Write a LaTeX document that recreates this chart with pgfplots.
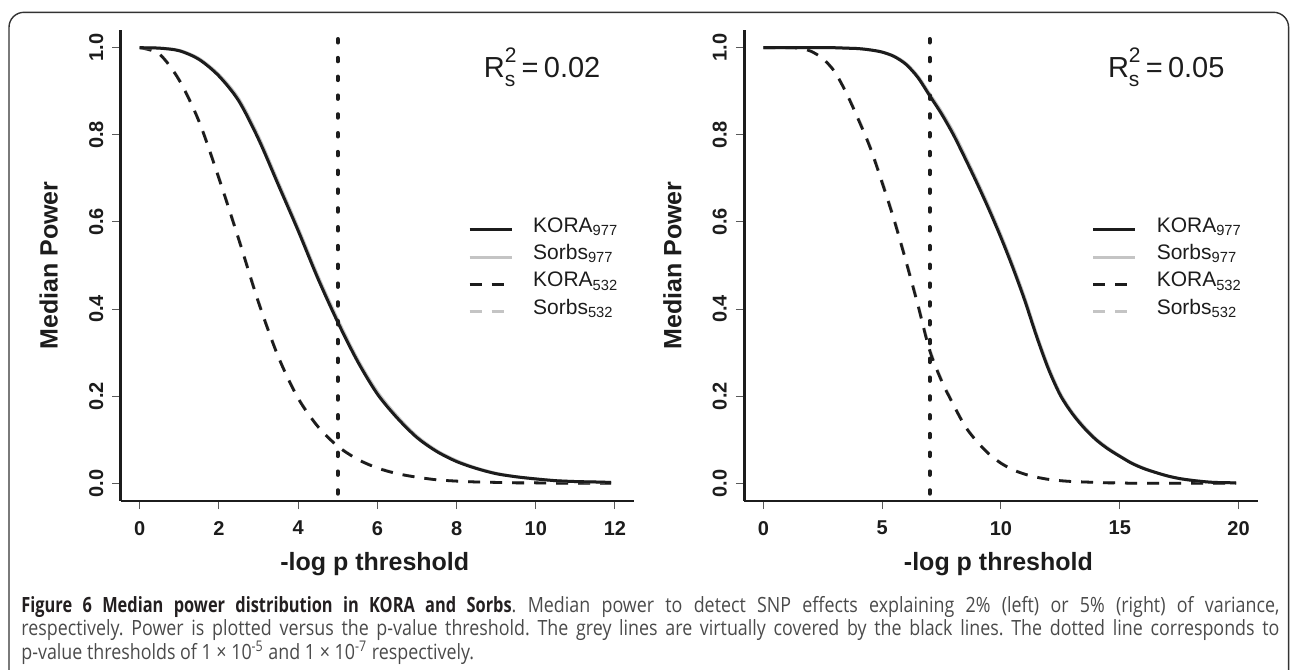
\documentclass[border=0pt]{standalone}
\usepackage{pgfplots}
\pgfplotsset{compat=1.18}
\usepackage{pgfplotstable}
\usepackage{fontspec}
\setmainfont{Liberation Sans}
\newfontfamily\capfont[FakeStretch=0.85]{Open Sans}
\newfontfamily\capbold[FakeStretch=0.78]{Open Sans Bold}

\definecolor{ink}{HTML}{1C1C1C}
\definecolor{sorbs}{HTML}{C4C4C4}
\definecolor{framec}{HTML}{333333}
\definecolor{capdark}{HTML}{231F20}
\definecolor{caplight}{HTML}{4A4A4A}

% R_s^2 = 0.02, columns: -log p, KORA977, Sorbs977, KORA532, Sorbs532
\pgfplotstableread{
x    k977  s977  k532  s532
0    1.000 1.000 1.000 1.000
0.5  0.999 0.999 0.985 0.986
1    0.993 0.994 0.925 0.927
1.5  0.973 0.975 0.830 0.832
2    0.935 0.938 0.700 0.703
2.5  0.878 0.883 0.560 0.563
3    0.790 0.796 0.415 0.418
3.5  0.685 0.691 0.290 0.292
4    0.580 0.586 0.195 0.197
4.5  0.470 0.476 0.130 0.131
5    0.370 0.376 0.085 0.086
5.5  0.280 0.285 0.055 0.056
6    0.205 0.210 0.035 0.036
6.5  0.150 0.154 0.022 0.023
7    0.105 0.108 0.014 0.014
7.5  0.073 0.075 0.008 0.008
8    0.050 0.052 0.005 0.005
8.5  0.034 0.035 0.003 0.003
9    0.022 0.023 0.002 0.002
9.5  0.015 0.015 0.001 0.001
10   0.010 0.010 0.001 0.001
10.5 0.006 0.006 0.000 0.000
11   0.004 0.004 0.000 0.000
11.5 0.003 0.003 0.000 0.000
11.9 0.002 0.002 0.000 0.000
}\lefttab

% R_s^2 = 0.05
\pgfplotstableread{
x    k977  s977  k532  s532
0    1.000 1.000 1.000 1.000
1    1.000 1.000 1.000 1.000
1.5  1.000 1.000 0.999 0.999
2    1.000 1.000 0.992 0.992
2.5  1.000 1.000 0.975 0.976
3    1.000 1.000 0.945 0.946
3.5  0.999 0.999 0.895 0.897
4    0.998 0.998 0.835 0.838
4.5  0.995 0.995 0.770 0.773
5    0.990 0.990 0.690 0.694
5.5  0.980 0.981 0.605 0.609
6    0.962 0.964 0.510 0.514
6.5  0.932 0.935 0.410 0.414
7    0.890 0.894 0.305 0.309
7.5  0.848 0.853 0.235 0.238
8    0.800 0.806 0.180 0.182
8.5  0.745 0.751 0.130 0.132
9    0.688 0.694 0.095 0.096
9.5  0.628 0.634 0.067 0.068
10   0.564 0.570 0.046 0.047
10.5 0.495 0.501 0.031 0.032
11   0.420 0.426 0.021 0.021
11.5 0.337 0.342 0.014 0.014
12   0.262 0.267 0.009 0.009
12.5 0.202 0.206 0.006 0.006
13   0.160 0.163 0.004 0.004
13.5 0.127 0.130 0.003 0.003
14   0.100 0.102 0.002 0.002
14.5 0.079 0.081 0.001 0.001
15   0.062 0.063 0.001 0.001
15.5 0.046 0.047 0.000 0.000
16   0.034 0.035 0.000 0.000
16.5 0.025 0.025 0.000 0.000
17   0.017 0.017 0.000 0.000
17.5 0.011 0.011 0.000 0.000
18   0.007 0.007 0.000 0.000
18.5 0.004 0.004 0.000 0.000
19   0.002 0.002 0.000 0.000
19.9 0.001 0.001 0.000 0.000
}\righttab

\newcommand\rsq[1]{R\rlap{\raisebox{0.5em}{\fontsize{10.5}{10.5}\selectfont 2}}\raisebox{-0.32em}{\fontsize{10.5}{10.5}\selectfont s}\hspace{0.22em}=\hspace{0.18em}#1}

\pgfplotsset{
  rplot/.style={
    scale only axis, width=256.65pt, height=235.2pt,
    axis x line*=bottom, axis y line*=left,
    axis line style={line width=1.2pt, ink, -},
    tick align=outside, major tick length=4.2pt,
    major tick style={line width=0.5pt, black!65},
    ymin=-0.04, ymax=1.04,
    ytick={0,0.2,0.4,0.6,0.8,1},
    /pgf/number format/assume math mode=true,
    tick label style={font=\fontsize{10}{12}\selectfont\bfseries, text=ink},
    xticklabel shift=2.5pt,
    yticklabel shift=1pt,
    yticklabel style={rotate=90, anchor=south,
      /pgf/number format/.cd, fixed, fixed zerofill, precision=1},
    xlabel={-log p threshold}, ylabel={Median Power},
    every axis x label/.style={at={(axis description cs:0.495,-0.1494)}, anchor=base,
      font=\fontsize{12.5}{15}\selectfont\bfseries, text=ink},
    every axis y label/.style={at={(axis description cs:-0.1227,0.5)}, anchor=base, rotate=90,
      font=\fontsize{12.5}{15}\selectfont\bfseries, text=ink},
    reverse legend,
    legend cell align=left,
    legend style={at={(axis description cs:0.677,0.605)}, anchor=north west,
      draw=none, fill=none, inner sep=0pt, outer sep=0pt,
      font=\fontsize{10.5}{12}\selectfont, text=ink,
      nodes={inner sep=0pt, text height=8pt, text depth=5.67pt},
      /tikz/every odd column/.append style={column sep=10pt}},
    legend image code/.code={\draw[#1] (0pt,0pt) -- (21pt,0pt);},
  },
  solidk/.style={ink, line width=1.5pt, smooth},
  solids/.style={sorbs, line width=1.5pt, smooth},
  dashk/.style={ink, line width=1.4pt, smooth, dash pattern=on 6pt off 5pt},
  dashs/.style={sorbs, line width=1.4pt, smooth, dash pattern=on 6pt off 5pt},
  dotline/.style={ink, line width=2pt, line cap=round, dash pattern=on 1.75pt off 7.65pt, forget plot},
}

\begin{document}
\begin{tikzpicture}
% one reference pixel = 0.5pt, y measured downwards from the top edge
\useasboundingbox (0pt,0pt) rectangle (646pt,-335pt);
\draw[framec, line width=0.7pt, rounded corners=7.5pt] (4.5pt,-360pt) -- (4.5pt,-6.15pt) -- (644.3pt,-6.15pt) -- (644.3pt,-360pt);

\begin{axis}[rplot, at={(60.35pt,-250.35pt)}, anchor=south west,
  xmin=-0.48, xmax=12.48, xtick={0,2,...,12}]
  \addplot[dashs] table[x=x, y=s532] {\lefttab};
  \addlegendentry{Sorbs\textsubscript{532}}
  \addplot[dashk] table[x=x, y=k532] {\lefttab};
  \addlegendentry{KORA\textsubscript{532}}
  \addplot[solids] table[x=x, y=s977] {\lefttab};
  \addlegendentry{Sorbs\textsubscript{977}}
  \addplot[solidk] table[x=x, y=k977] {\lefttab};
  \addlegendentry{KORA\textsubscript{977}}
  \addplot[dotline] coordinates {(5,1.02) (5,-0.045)};
  \node[anchor=base, font=\fontsize{14.5}{16}\selectfont, text=ink] at (rel axis cs:0.821,0.9007) {\rsq{0.02}};
\end{axis}

\begin{axis}[rplot, at={(372.15pt,-250.35pt)}, anchor=south west,
  xmin=-0.8, xmax=20.8, xtick={0,5,...,20}]
  \addplot[dashs] table[x=x, y=s532] {\righttab};
  \addlegendentry{Sorbs\textsubscript{532}}
  \addplot[dashk] table[x=x, y=k532] {\righttab};
  \addlegendentry{KORA\textsubscript{532}}
  \addplot[solids] table[x=x, y=s977] {\righttab};
  \addlegendentry{Sorbs\textsubscript{977}}
  \addplot[solidk] table[x=x, y=k977] {\righttab};
  \addlegendentry{KORA\textsubscript{977}}
  \addplot[dotline] coordinates {(7,1.02) (7,-0.045)};
  \node[anchor=base, font=\fontsize{14.5}{16}\selectfont, text=ink] at (rel axis cs:0.822,0.9007) {\rsq{0.05}};
\end{axis}

\begin{scope}[every node/.style={anchor=base west, inner sep=0pt, font=\capfont\frenchspacing\fontsize{10.5}{12}\selectfont, text=caplight}]
\node at (10.5pt,-306pt) {\makebox[629pt][s]{{\color{capdark}\capbold Figure 6 Median power distribution in KORA and Sorbs}. Median power to detect SNP effects explaining 2\% (left) or 5\% (right) of variance,}};
\node at (10.5pt,-317.75pt) {\makebox[629pt][s]{respectively. Power is plotted versus the p-value threshold. The grey lines are virtually covered by the black lines. The dotted line corresponds to}};
\node at (10.5pt,-329.5pt) {p-value thresholds of 1 × 10\textsuperscript{-5} and 1 × 10\textsuperscript{-7} respectively.};
\end{scope}
\end{tikzpicture}
\end{document}
